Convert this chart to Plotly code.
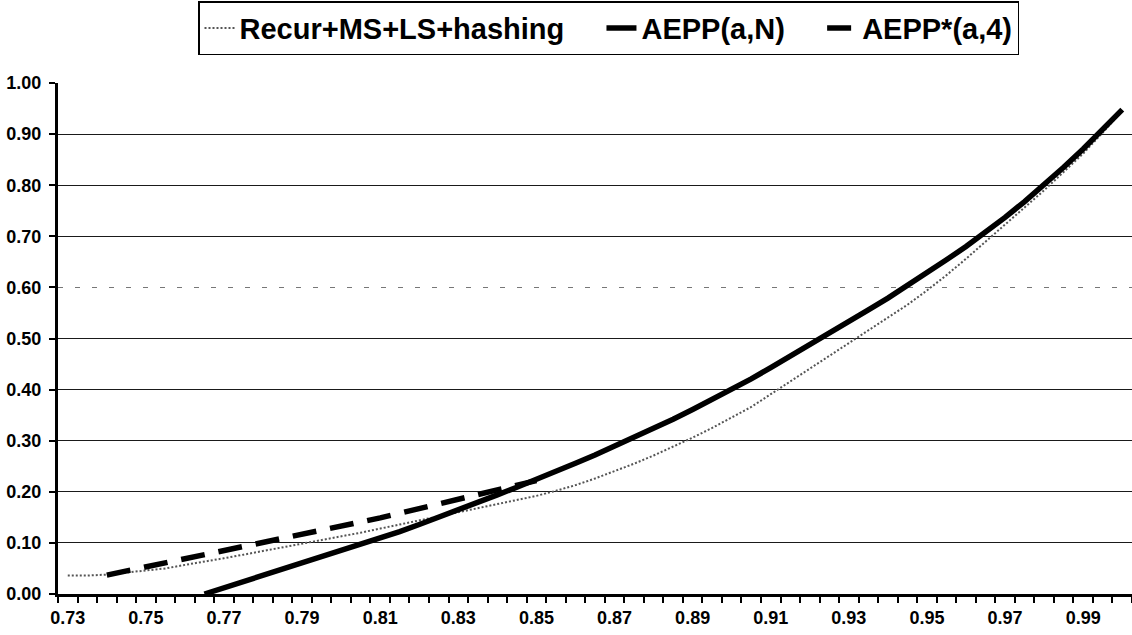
import plotly.graph_objects as go

# Category values (a) every 0.005
a_values = [0.730, 0.735, 0.740, 0.745, 0.750, 0.755, 0.760, 0.765, 0.770, 0.775,
            0.780, 0.785, 0.790, 0.795, 0.800, 0.805, 0.810, 0.815, 0.820, 0.825,
            0.830, 0.835, 0.840, 0.845, 0.850, 0.855, 0.860, 0.865, 0.870, 0.875,
            0.880, 0.885, 0.890, 0.895, 0.900, 0.905, 0.910, 0.915, 0.920, 0.925,
            0.930, 0.935, 0.940, 0.945, 0.950, 0.955, 0.960, 0.965, 0.970, 0.975,
            0.980, 0.985, 0.990, 0.995, 1.000]

recur_ms_ls_hashing = [0.036, 0.036, 0.038, 0.042, 0.046, 0.050, 0.057, 0.063, 0.070, 0.077,
                       0.084, 0.091, 0.098, 0.106, 0.113, 0.120, 0.128, 0.136, 0.144, 0.152,
                       0.160, 0.168, 0.176, 0.184, 0.192, 0.202, 0.213, 0.226, 0.240, 0.255,
                       0.271, 0.288, 0.306, 0.325, 0.345, 0.366, 0.391, 0.416, 0.440, 0.465,
                       0.490, 0.515, 0.540, 0.566, 0.594, 0.624, 0.656, 0.690, 0.723, 0.756,
                       0.790, 0.826, 0.862, 0.903, 0.946]

aepp_a_n = [None, None, None, None, None, None, None, 0.000, 0.012, 0.024,
            0.036, 0.048, 0.060, 0.072, 0.084, 0.097, 0.109, 0.122, 0.136, 0.150,
            0.164, 0.179, 0.194, 0.209, 0.224, 0.240, 0.256, 0.272, 0.289, 0.306,
            0.324, 0.342, 0.361, 0.380, 0.400, 0.421, 0.443, 0.465, 0.487, 0.510,
            0.533, 0.556, 0.579, 0.603, 0.628, 0.654, 0.680, 0.707, 0.737, 0.768,
            0.800, 0.835, 0.871, 0.908, 0.948]

aepp_star_a_4 = [None, None, 0.037, 0.045, 0.053, 0.061, 0.068, 0.076, 0.083, 0.091,
                 0.099, 0.107, 0.115, 0.124, 0.132, 0.141, 0.149, 0.158, 0.167, 0.176,
                 0.185, 0.194, 0.203, 0.212, 0.222, None, None, None, None, None,
                 None, None, None, None, None, None, None, None, None, None,
                 None, None, None, None, None, None, None, None, None, None,
                 None, None, None, None, None]

series_names = ["Recur+MS+LS+hashing", "AEPP(a,N)", "AEPP*(a,4)"]

x_tick_vals = [0.73, 0.75, 0.77, 0.79, 0.81, 0.83, 0.85, 0.87, 0.89, 0.91, 0.93, 0.95, 0.97, 0.99]
x_tick_text = ["0.73", "0.75", "0.77", "0.79", "0.81", "0.83", "0.85", "0.87", "0.89",
               "0.91", "0.93", "0.95", "0.97", "0.99"]

y_tick_vals = [0.0, 0.1, 0.2, 0.3, 0.4, 0.5, 0.6, 0.7, 0.8, 0.9, 1.0]
y_solid_grid = [0.1, 0.2, 0.3, 0.4, 0.5, 0.7, 0.8, 0.9, 1.0]
y_faint_grid = [0.6]

FONT = "Liberation Sans, Arial, sans-serif"
NB = "\u00a0"

fig = go.Figure()
# empty helper traces so the two overlay grid axes get drawn
fig.add_trace(go.Scatter(x=[], y=[], yaxis="y2", showlegend=False, hoverinfo="skip"))
fig.add_trace(go.Scatter(x=[], y=[], yaxis="y3", showlegend=False, hoverinfo="skip"))

fig.add_trace(go.Scatter(x=a_values, y=recur_ms_ls_hashing, mode="lines",
                         name=series_names[0] + NB * 4,
                         line=dict(color="#555555", width=2, dash="2px,2px")))
fig.add_trace(go.Scatter(x=a_values, y=aepp_a_n, mode="lines",
                         name=series_names[1] + NB * 4,
                         line=dict(color="black", width=5.5)))
fig.add_trace(go.Scatter(x=a_values, y=aepp_star_a_4, mode="lines",
                         name=series_names[2],
                         line=dict(color="black", width=5.5, dash="24px,14px")))

grid_axis_common = dict(range=[0, 1.0], overlaying="y", anchor="x", side="left",
                        showticklabels=False, ticks="", showline=False, zeroline=False,
                        showgrid=True, tickmode="array", fixedrange=True)

fig.update_layout(
    width=1132, height=635, autosize=False,
    margin=dict(l=58, r=0, t=83, b=41),
    paper_bgcolor="white", plot_bgcolor="white",
    font=dict(family=FONT, color="black", size=18, weight="bold"),
    showlegend=True,
    legend=dict(orientation="h", x=198 / 1132, xanchor="left", xref="container",
                y=0.998, yanchor="top", yref="container",
                font=dict(family=FONT, size=29, color="black", weight="bold"),
                bordercolor="black", borderwidth=1.5, bgcolor="white",
                itemwidth=30, tracegroupgap=0),
    xaxis=dict(range=[0.7275, 1.0025], tickmode="array", tickvals=x_tick_vals,
               ticktext=x_tick_text, ticks="outside", ticklen=6,
               tickcolor="rgba(0,0,0,0)", showgrid=False, zeroline=False,
               showline=True, linecolor="black", linewidth=2.5,
               tickfont=dict(family=FONT, size=18, color="black", weight="bold"),
               minor=dict(tickmode="linear", tick0=0.7275, dtick=0.005, ticks="outside",
                          ticklen=6, tickcolor="black", tickwidth=1.5, showgrid=False)),
    yaxis=dict(range=[0, 1.0], tickmode="array", tickvals=y_tick_vals, tickformat=".2f",
               ticks="outside", ticklen=6, tickcolor="black", tickwidth=1.5,
               ticklabelstandoff=4, showgrid=False, zeroline=False,
               showline=True, linecolor="black", linewidth=3,
               tickfont=dict(family=FONT, size=18, color="black", weight="bold")),
    yaxis2=dict(tickvals=y_solid_grid, gridcolor="#1a1a1a", gridwidth=1.3,
                **grid_axis_common),
    yaxis3=dict(tickvals=y_faint_grid, gridcolor="#777777", gridwidth=1.2,
                griddash="5px,12px", **grid_axis_common),
)

fig.write_html("out.html")
